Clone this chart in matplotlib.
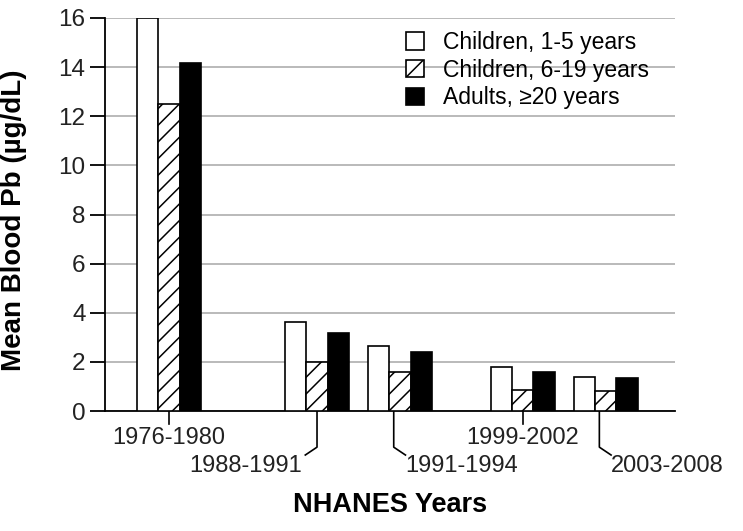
"""
Mean blood lead (Pb) by NHANES survey period and age group, grouped bar chart.
"""
import numpy as np
import matplotlib
matplotlib.use("Agg")
import matplotlib.pyplot as plt
from matplotlib.patches import Patch

# ---- Data -------------------------------------------------------------------
periods = ["1976-1980", "1988-1991", "1991-1994", "1999-2002", "2003-2008"]
series_names = ["Children, 1-5 years", "Children, 6-19 years", "Adults, \u226520 years"]
children_1_5 = [16.0, 3.64, 2.65, 1.79, 1.40]
children_6_19 = [12.5, 1.98, 1.59, 0.86, 0.80]
adults_20 = [14.15, 3.19, 2.39, 1.60, 1.34]

# ---- Layout (group centres in bar-width units, uneven like the original) ----
centers = np.array([0.0, 6.95, 10.85, 16.6, 20.5])
width = 1.0

plt.rcParams.update({
    "font.family": ["Liberation Sans", "DejaVu Sans"],
    "hatch.linewidth": 1.1,
})

fig = plt.figure(figsize=(7.43, 5.31), dpi=100)
ax = fig.add_axes([105 / 743, 1 - 411 / 531, 570 / 743, 393 / 531])

ax.bar(centers - width, children_1_5, width, color="white",
       edgecolor="black", linewidth=1.2, zorder=3)
ax.bar(centers, children_6_19, width, color="white", hatch="//",
       edgecolor="black", linewidth=1.2, zorder=3)
ax.bar(centers + width, adults_20, width, color="black",
       edgecolor="black", linewidth=1.2, zorder=3)

ax.set_xlim(-3.0, 23.75)
ax.set_ylim(0, 16)
ax.set_yticks(range(0, 17, 2))
ax.set_xticks([])
ax.yaxis.grid(True, color="#b4b4b4", linewidth=1.3, zorder=0)
ax.set_axisbelow(True)
ax.spines[["top", "right"]].set_visible(False)
ax.spines["left"].set_linewidth(1.3)
ax.spines["bottom"].set_linewidth(1.3)
ax.tick_params(axis="y", direction="out", length=10.5, width=1.3, pad=3.5,
               labelsize=17.5, colors="black", labelcolor="#222222")

# ---- Staggered period labels with leader lines ------------------------------
tr = ax.get_xaxis_transform()
lab_kw = dict(transform=tr, fontsize=17, color="#222222", va="center")
y_short, y_mid, y_low = -0.033, -0.092, -0.112
y_up_txt, y_low_txt = -0.069, -0.139
dx = 0.55
for i, (c, lab) in enumerate(zip(centers, periods)):
    if i in (0, 3):
        ax.plot([c, c], [0, y_short], transform=tr, color="black",
                lw=1.2, clip_on=False)
        ax.text(c, y_up_txt, lab, ha="center", **lab_kw)
    elif i == 1:
        ax.plot([c, c, c - dx], [0, y_mid, y_low], transform=tr,
                color="black", lw=1.2, clip_on=False)
        ax.text(c - dx - 0.15, y_low_txt, lab, ha="right", **lab_kw)
    else:
        ax.plot([c - 0.3, c - 0.3, c - 0.3 + dx], [0, y_mid, y_low],
                transform=tr, color="black", lw=1.2, clip_on=False)
        ax.text(c - 0.3 + dx, y_low_txt, lab, ha="left", **lab_kw)

ax.text(0.5, -0.239, "NHANES Years", transform=ax.transAxes, ha="center",
        va="center", fontsize=19.5, fontweight="bold")
ax.set_ylabel("Mean Blood Pb (\u00b5g/dL)", fontsize=20, fontweight="bold")
ax.yaxis.set_label_coords(-0.137, 0.486)

# ---- Legend -----------------------------------------------------------------
handles = [
    Patch(facecolor="white", edgecolor="black", linewidth=1.2),
    Patch(facecolor="white", edgecolor="black", hatch="//", linewidth=1.2),
    Patch(facecolor="black", edgecolor="black", linewidth=1.2),
]
ax.legend(handles, series_names, loc="upper left",
          bbox_to_anchor=((406 - 105) / 570, (411 - 31) / 393),
          frameon=False, fontsize=16.5, handlelength=0.78, handleheight=0.78,
          handletextpad=0.85, labelspacing=0.2, borderpad=0, borderaxespad=0)

fig.savefig("out.png", dpi=100)
